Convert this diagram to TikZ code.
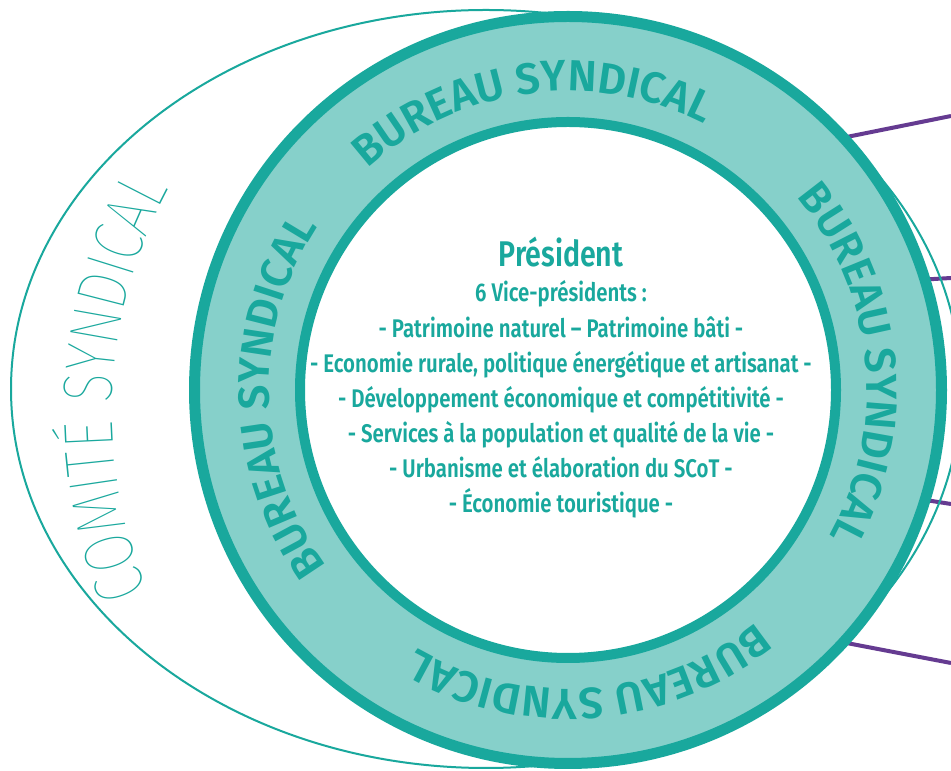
\documentclass[tikz,border=0pt]{standalone}
\usepackage{fontspec}
\usetikzlibrary{decorations.text,backgrounds,calc}
\setmainfont{Fira Sans}
\IfFontExistsTF{Fira Sans SemiBold}
  {\newfontfamily\fsemi{Fira Sans SemiBold}[FakeStretch=0.8]
   \newfontfamily\fring{Fira Sans SemiBold}}
  {\newfontfamily\fsemi{Fira Sans}[FakeStretch=0.8,UprightFont=*,BoldFont=*]
   \newfontfamily\fring{Fira Sans}}
\IfFontExistsTF{Fira Sans Thin}
  {\newfontfamily\fthin{Fira Sans Thin}[FakeStretch=0.78]}
  {\IfFontExistsTF{Fira Sans Light}
    {\newfontfamily\fthin{Fira Sans Light}[FakeStretch=0.78]}
    {\newfontfamily\fthin{Fira Sans}[FakeStretch=0.78]}}
\definecolor{tealdark}{HTML}{19A89D}
\definecolor{teallight}{HTML}{86D0CA}
\definecolor{purp}{HTML}{653B91}
\pgfdeclarelayer{paper}
\pgfsetlayers{paper,background,main}
\begin{document}
\begin{tikzpicture}[x=1pt,y=1pt,
  purpline/.style={draw=purp,line width=4pt,shorten <=-10pt},
  ctext/.style={anchor=base,inner sep=0pt,text=tealdark,font=\fsemi\fontsize{25.5}{25.5}\selectfont},
  ringtext/.style={decorate,decoration={text along path,text color=tealdark,text align=center,
     text={|\fring\fontsize{43.5}{43.5}\selectfont|BUREAU SYNDICAL}}}]
\useasboundingbox (0,0) rectangle (951,771);
\begin{pgfonlayer}{paper}
\fill[white] (0,0) rectangle (951,771);
\end{pgfonlayer}
% outer ellipse (comite)
\draw[tealdark,line width=2pt] (486,382) ellipse [x radius=475pt, y radius=379pt];
% ring
\node[circle,inner sep=0pt,minimum size=747pt,draw=tealdark,line width=11pt,fill=teallight] (ring) at (568,381) {};
\node[circle,inner sep=0pt,minimum size=536pt,draw=tealdark,line width=10pt,fill=white] (core) at (568,381) {};
% purple connectors
\coordinate (e1) at (951,655);
\coordinate (e2) at (951,493);
\coordinate (e3) at (951,267);
\coordinate (e4) at (951,108);
\begin{scope}[on background layer]
\draw[purpline] (ring.42.3) -- (e1);
\draw[purpline] (ring.17.2) -- (e2);
\draw[purpline] (ring.-17.5) -- (e3);
\draw[purpline] (ring.-42.5) -- (e4);
\end{scope}
% ring texts
\foreach \m in {97.5,5.5,-85.6,181.5}{
  \path[ringtext] ($(ring.center)+(\m+40:299pt)$) arc[start angle=\m+40,end angle=\m-40,radius=299pt];
}
% comite text
\coordinate (cc) at (579,359);
\path[decorate,decoration={text along path,text color=tealdark,text align=center,
   text={|\fthin\fontsize{70}{70}\selectfont|COMITÉ SYNDICAL}}]
   ($(cc)+(207:467pt)$) arc[start angle=207,end angle=147,radius=467pt];
% central text
\node[ctext,font=\fsemi\fontsize{35.7}{35.7}\selectfont] (pres) at (561,504) {Président};
\node[ctext] (vp) at (561,469) {6 Vice-présidents :};
\node[ctext] (t1) at (561,433) {- Patrimoine naturel – Patrimoine bâti -};
\node[ctext] (t2) at (561,398) {- Economie rurale, politique énergétique et artisanat -};
\node[ctext] (t3) at (561,363) {- Développement économique et compétitivité -};
\node[ctext] (t4) at (561,328) {- Services à la population et qualité de la vie -};
\node[ctext] (t5) at (561,293) {- Urbanisme et élaboration du SCoT -};
\node[ctext] (t6) at (561,258) {- Économie touristique -};
\end{tikzpicture}
\end{document}
